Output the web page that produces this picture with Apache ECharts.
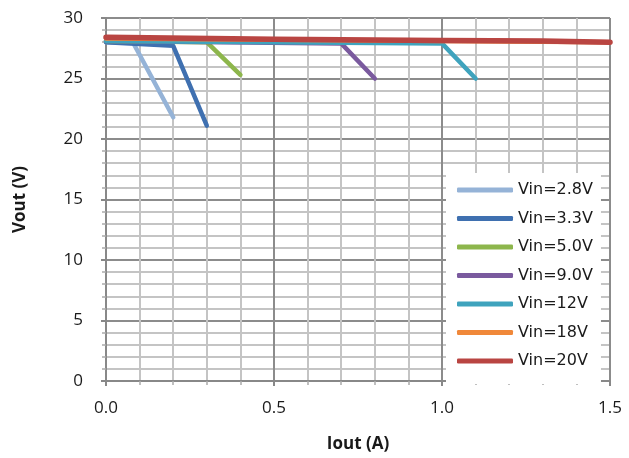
<!DOCTYPE html>
<html>
<head>
<meta charset="utf-8">
<script src="https://cdn.jsdelivr.net/npm/echarts@6/dist/echarts.min.js"></script>
<style>
html,body{margin:0;padding:0;background:#fff;}
#chart{width:629px;height:458px;}
</style>
</head>
<body>
<div id="chart"></div>
<script>
var seriesNames = ['Vin=2.8V','Vin=3.3V','Vin=5.0V','Vin=9.0V','Vin=12V','Vin=18V','Vin=20V'];
var iout28 = [0, 0.08, 0.2];        var vout28 = [28.0, 28.0, 21.8];
var iout33 = [0, 0.2, 0.3];         var vout33 = [28.0, 27.7, 21.1];
var iout50 = [0, 0.3, 0.4];         var vout50 = [28.1, 28.0, 25.3];
var iout90 = [0, 0.7, 0.8];         var vout90 = [28.1, 27.9, 25.0];
var iout12 = [0, 1.0, 1.1];         var vout12 = [28.1, 27.9, 25.0];
var iout18 = [0, 0.5, 1.0, 1.5];    var vout18 = [28.3, 28.2, 28.1, 28.0];
var iout20 = [0, 0.5, 1.0, 1.3, 1.5]; var vout20 = [28.4, 28.25, 28.15, 28.1, 28.0];
var xTicks = [0, 0.5, 1.0, 1.5];
var yTicks = [0, 5, 10, 15, 20, 25, 30];

var colors = ['#95B3D7','#3F70B0','#8DB64C','#7A5A9E','#3FA3BD','#F0883A','#B94542'];
var widths = [4.5, 4.5, 4.5, 4.5, 4.5, 4.5, 5.5];
var xs = [iout28, iout33, iout50, iout90, iout12, iout18, iout20];
var ys = [vout28, vout33, vout50, vout90, vout12, vout18, vout20];

function pairs(x, y){ return x.map(function(v,i){ return [v, y[i]]; }); }

var series = seriesNames.map(function(n, k){
  return {
    name: n, type: 'line', data: pairs(xs[k], ys[k]),
    showSymbol: false, symbol: 'none',
    lineStyle: {color: colors[k], width: widths[k], cap: 'round', join: 'round'},
    itemStyle: {color: colors[k]},
    z: 2 + k, animation: false
  };
});

var font = 'Open Sans';
var chart = echarts.init(document.getElementById('chart'), null, {renderer:'canvas'});
chart.setOption({
  animation: false,
  grid: {left: 106, right: 19, top: 18, bottom: 77, containLabel: false},
  legend: {
    orient: 'vertical',
    left: 446, top: 173,
    padding: [8, 8, 14, 11],
    backgroundColor: '#ffffff',
    itemWidth: 56, itemHeight: 5, itemGap: 10.5,
    icon: 'roundRect',
    data: seriesNames,
    textStyle: {fontFamily: 'DejaVu Sans', fontSize: 16, color: '#1a1a1a', lineHeight: 18}
  },
  xAxis: {
    type: 'value', min: 0, max: 1.5, interval: 0.5,
    name: 'Iout (A)', nameLocation: 'middle', nameGap: 55,
    nameTextStyle: {fontFamily: font, fontSize: 17, fontWeight: 'bold', color: '#1a1a1a'},
    axisLine: {show: true, lineStyle: {color: '#888888', width: 2}},
    axisTick: {show: true, length: 5, inside: false, lineStyle: {color: '#888888', width: 2}},
    minorTick: {show: true, splitNumber: 5, length: 4, lineStyle: {color: '#aaaaaa', width: 1.5}},
    axisLabel: {margin: 19, fontFamily: font, fontSize: 17, color: '#1a1a1a',
      formatter: function(v){ return xTicks.indexOf(v) >= 0 ? v.toFixed(1) : ''; }},
    splitLine: {show: true, lineStyle: {color: '#8c8c8c', width: 2}},
    minorSplitLine: {show: true, lineStyle: {color: '#c4c4c4', width: 2}}
  },
  yAxis: {
    type: 'value', min: 0, max: 30, interval: 5,
    name: 'Vout (V)', nameLocation: 'middle', nameGap: 77, nameRotate: 90,
    nameTextStyle: {fontFamily: font, fontSize: 17, fontWeight: 'bold', color: '#1a1a1a'},
    axisLine: {show: true, lineStyle: {color: '#888888', width: 2}},
    axisTick: {show: true, length: 5, inside: false, lineStyle: {color: '#888888', width: 2}},
    minorTick: {show: true, splitNumber: 5, length: 4, lineStyle: {color: '#aaaaaa', width: 1.5}},
    axisLabel: {margin: 23, fontFamily: font, fontSize: 17, color: '#1a1a1a',
      formatter: function(v){ return yTicks.indexOf(v) >= 0 ? String(v) : ''; }},
    splitLine: {show: true, lineStyle: {color: '#8c8c8c', width: 2}},
    minorSplitLine: {show: true, lineStyle: {color: '#c4c4c4', width: 2}}
  },
  series: series
});
</script>
</body>
</html>
